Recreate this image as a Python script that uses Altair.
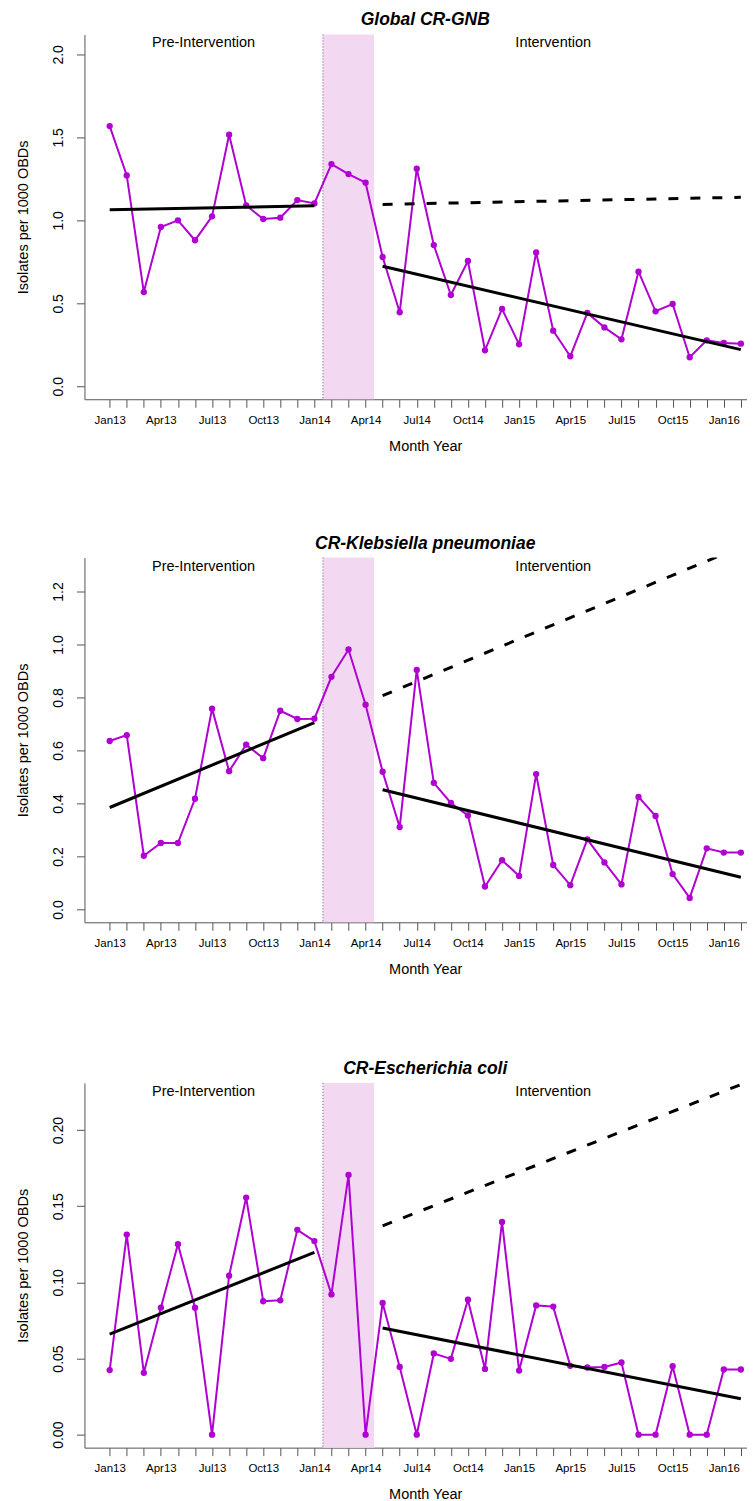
import altair as alt
import pandas as pd

# ---------------- data ----------------
month_names = ["Jan13", "Feb13", "Mar13", "Apr13", "May13", "Jun13", "Jul13", "Aug13", "Sep13", "Oct13", "Nov13", "Dec13",
               "Jan14", "Feb14", "Mar14", "Apr14", "May14", "Jun14", "Jul14", "Aug14", "Sep14", "Oct14", "Nov14", "Dec14",
               "Jan15", "Feb15", "Mar15", "Apr15", "May15", "Jun15", "Jul15", "Aug15", "Sep15", "Oct15", "Nov15", "Dec15",
               "Jan16", "Feb16"]
shown_labels = ["Jan13", "Apr13", "Jul13", "Oct13", "Jan14", "Apr14", "Jul14", "Oct14",
                "Jan15", "Apr15", "Jul15", "Oct15", "Jan16"]
months = list(range(1, len(month_names) + 1))

gnb = [1.568, 1.271, 0.568, 0.960, 1.000, 0.880, 1.024, 1.516, 1.090, 1.008, 1.016, 1.122, 1.102,
       1.339, 1.279, 1.227, 0.779, 0.446, 1.311, 0.851, 0.550, 0.755, 0.217, 0.466, 0.253, 0.807,
       0.335, 0.181, 0.442, 0.355, 0.283, 0.691, 0.452, 0.496, 0.175, 0.277, 0.261, 0.257]
kp = [0.636, 0.658, 0.203, 0.251, 0.251, 0.418, 0.758, 0.522, 0.622, 0.571, 0.750, 0.719, 0.720,
      0.878, 0.981, 0.773, 0.520, 0.311, 0.904, 0.478, 0.402, 0.355, 0.087, 0.186, 0.127, 0.511,
      0.168, 0.092, 0.265, 0.178, 0.095, 0.425, 0.353, 0.134, 0.044, 0.231, 0.215, 0.215]
ec = [0.0424, 0.1314, 0.0406, 0.0834, 0.1251, 0.0834, 0.0, 0.1044, 0.1557, 0.0876, 0.0882, 0.1345, 0.1271,
      0.0921, 0.1705, 0.0, 0.0865, 0.0445, 0.0, 0.0533, 0.0498, 0.0886, 0.0432, 0.1397, 0.0421, 0.0849,
      0.0841, 0.0452, 0.0441, 0.0445, 0.0474, 0.0, 0.0, 0.0450, 0.0, 0.0, 0.0428, 0.0428]

# segmented-regression fitted lines (start / end values)
pre_months = [1, 13]
post_months = [17, 38]
gnb_pre, gnb_post, gnb_cf = [1.064, 1.088], [0.723, 0.221], [1.096, 1.139]
kp_pre, kp_post, kp_cf = [0.385, 0.705], [0.452, 0.122], [0.807, 1.368]
ec_pre, ec_post, ec_cf = [0.066, 0.1197], [0.0701, 0.0236], [0.1371, 0.2299]

# transition (shaded) period boundaries in month index
transition = [13.5, 16.5]
phase_labels = ["Pre-Intervention", "Intervention"]
phase_label_pos = [6.5, 27.0]

PURPLE = "#B000D2"
SHADE = "#F2D9F1"
AXIS_C = "#555555"
FONT = "Liberation Sans"
W, H = 663, 365
XDOM = [-0.48, 38.36]

label_expr = "[" + ",".join(
    "'" + (m if m in shown_labels else "") + "'" for m in month_names) + "][datum.value - 1]"


def panel(title, values, pre, post, cf, ydom, yticks, yfmt):
    xs = alt.Scale(domain=XDOM, nice=False, zero=False)
    ys = alt.Scale(domain=ydom, nice=False, zero=False)

    xaxis = alt.Axis(values=months, labelExpr=label_expr, labelOverlap=False, labelFlush=False,
                     tickSize=8, labelPadding=7, labelFontSize=11.5, labelFont=FONT, labelColor="black",
                     domainColor=AXIS_C, tickColor=AXIS_C, grid=False,
                     title="Month Year", titleFont=FONT, titleFontSize=14.5, titleFontWeight="normal",
                     titleColor="black", titleX=341, titleY=51, titleBaseline="alphabetic",
                     titleAlign="center")
    yaxis = alt.Axis(values=yticks, format=yfmt, labelAngle=270, labelAlign="center",
                     labelBaseline="middle", labelPadding=18, tickSize=8, labelFontSize=14,
                     labelFont=FONT, labelColor="black", labelFlush=False, labelOverlap=False,
                     domainColor=AXIS_C, tickColor=AXIS_C, grid=False,
                     title="Isolates per 1000 OBDs", titleFont=FONT, titleFontSize=14.5,
                     titleFontWeight="normal", titleColor="black", titleAngle=270,
                     titleX=-61, titleY=H / 2, titleBaseline="middle", titleAlign="center")

    X = alt.X("m:Q", scale=xs, axis=xaxis)
    Y = alt.Y("v:Q", scale=ys, axis=yaxis)

    df = pd.DataFrame({"m": months, "v": values})
    shade_df = pd.DataFrame({"m": [transition[0]], "m2": [transition[1]]})
    rule_df = pd.DataFrame({"m": [transition[0]]})
    pre_df = pd.DataFrame({"m": pre_months, "v": pre})
    post_df = pd.DataFrame({"m": post_months, "v": post})
    cf_df = pd.DataFrame({"m": post_months, "v": cf})
    txt_df = pd.DataFrame({"m": phase_label_pos, "t": phase_labels})
    title_df = pd.DataFrame({"t": [title]})

    shade = alt.Chart(shade_df).mark_rect(color=SHADE, opacity=1).encode(
        x=X, x2="m2:Q", y=alt.value(0), y2=alt.value(H))
    rule = alt.Chart(rule_df).mark_rule(color="#6E4F7E", strokeWidth=1, strokeDash=[1, 2]).encode(x=X)
    line = alt.Chart(df).mark_line(color=PURPLE, strokeWidth=2).encode(x=X, y=Y)
    pts = alt.Chart(df).mark_circle(color=PURPLE, size=40, opacity=1).encode(x=X, y=Y)
    pre_l = alt.Chart(pre_df).mark_line(color="black", strokeWidth=3).encode(x=X, y=Y)
    post_l = alt.Chart(post_df).mark_line(color="black", strokeWidth=3).encode(x=X, y=Y)
    cf_l = alt.Chart(cf_df).mark_line(color="black", strokeWidth=3, strokeDash=[10, 12],
                                      clip=True).encode(x=X, y=Y)
    txt = alt.Chart(txt_df).mark_text(font=FONT, fontSize=14.5, baseline="middle", align="center",
                                      color="black").encode(x=X, y=alt.value(9), text="t:N")
    ttl = alt.Chart(title_df).mark_text(font=FONT, fontSize=17.5, fontStyle="italic", fontWeight="bold",
                                        baseline="alphabetic", align="center", color="black").encode(
        x=alt.value(341), y=alt.value(-9), text="t:N")

    return alt.layer(shade, rule, line, pts, pre_l, post_l, cf_l, txt, ttl).properties(
        width=W, height=H)


p1 = panel("Global CR-GNB", gnb, gnb_pre, gnb_post, gnb_cf, [-0.078, 2.12],
           [0, 0.5, 1.0, 1.5, 2.0], ".1f")
p2 = panel("CR-Klebsiella pneumoniae", kp, kp_pre, kp_post, kp_cf, [-0.048, 1.328],
           [0, 0.2, 0.4, 0.6, 0.8, 1.0, 1.2], ".1f")
p3 = panel("CR-Escherichia coli", ec, ec_pre, ec_post, ec_cf, [-0.0085, 0.231],
           [0, 0.05, 0.10, 0.15, 0.20], ".2f")

chart = alt.vconcat(alt.vconcat(p1, p2, spacing=81.4), p3, spacing=84.1).properties(
    padding={"left": 7.5, "top": 3, "right": 0, "bottom": 0}
).configure_view(stroke=None)

chart.save("out.html", embed_options={"renderer": "svg", "actions": False})
